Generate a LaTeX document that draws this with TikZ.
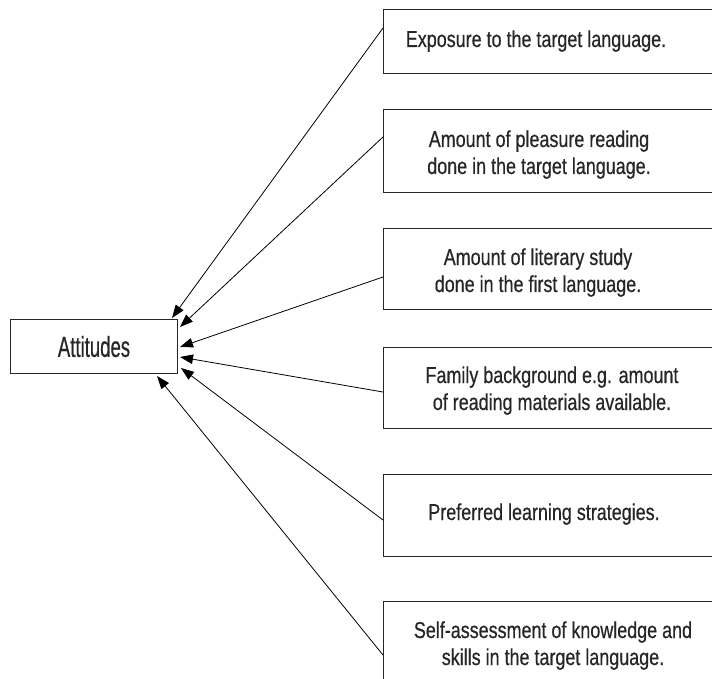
\documentclass[tikz,border=0pt]{standalone}
\usepackage{fontspec}
\setmainfont{Liberation Sans}
\newfontfamily\boxfont[FakeStretch=0.78,FakeBold=0.5]{Liberation Sans}
\newfontfamily\attfont[FakeStretch=0.64,FakeBold=0.5]{Liberation Sans}
\usetikzlibrary{arrows.meta,calc}
\tikzset{
  frame/.style={draw=black!85, line width=1pt, inner sep=0pt, anchor=north west, minimum width=340pt},
  label/.style={anchor=base, inner sep=0pt, text=black!85, font=\boxfont\fontsize{23}{27}\selectfont},
  conn/.style={draw=black, line width=0.8pt, -{Triangle[length=13pt,width=9.5pt]}}
}
\begin{document}
\begin{tikzpicture}[x=1pt,y=-1pt]
\useasboundingbox (0,0) rectangle (712,679);
\clip (0,0) rectangle (712,679);
\fill[white] (0,0) rectangle (712,679);
% left box
\node[draw=black!85, line width=1pt, inner sep=0pt, anchor=north west,
      minimum width=167pt, minimum height=54pt, text=black!85,
      font=\attfont\fontsize{29}{34}\selectfont] (att) at (10,319) {Attitudes};
% right boxes
\node[frame, minimum height=64pt] (b1) at (383,9) {};
\node[frame, minimum height=83pt] (b2) at (383,109) {};
\node[frame, minimum height=81pt] (b3) at (383,228) {};
\node[frame, minimum height=81pt] (b4) at (383,347) {};
\node[frame, minimum height=82pt] (b5) at (383,474) {};
\node[frame, minimum height=95pt] (b6) at (383,601) {};
% texts
\node[label] (t1) at (536,47) {Exposure to the target language.};
\node[label] (t2) at (539,147) {\begin{tabular}[t]{@{}c@{}}Amount of pleasure reading\\ done in the target language.\end{tabular}};
\node[label] (t3) at (538,265) {\begin{tabular}[t]{@{}c@{}}Amount of literary study\\ done in the first language.\end{tabular}};
\node[label] (t4) at (552,383) {\begin{tabular}[t]{@{}c@{}}Family background e.g. amount\\ of reading materials available.\end{tabular}};
\node[label] (t5) at (544,520) {Preferred learning strategies.};
\node[label] (t6) at (553,638) {\begin{tabular}[t]{@{}c@{}}Self-assessment of knowledge and\\ skills in the target language.\end{tabular}};
% connectors
\draw[conn] ($(b1.north west)+(0,19)$) -- ($(att.north east)+(-6,-1)$);
\draw[conn] ($(b2.north west)+(0,28)$) -- ($(att.north east)+(2,8)$);
\draw[conn] ($(b3.north west)+(0,49)$) -- ($(att.north east)+(2,28)$);
\draw[conn] ($(b4.north west)+(0,45)$) -- ($(att.north east)+(2,38)$);
\draw[conn] ($(b5.north west)+(0,46)$) -- ($(att.north east)+(3,49)$);
\draw[conn] ($(b6.north west)+(0,54)$) -- ($(att.south east)+(-21,2)$);
\end{tikzpicture}
\end{document}
